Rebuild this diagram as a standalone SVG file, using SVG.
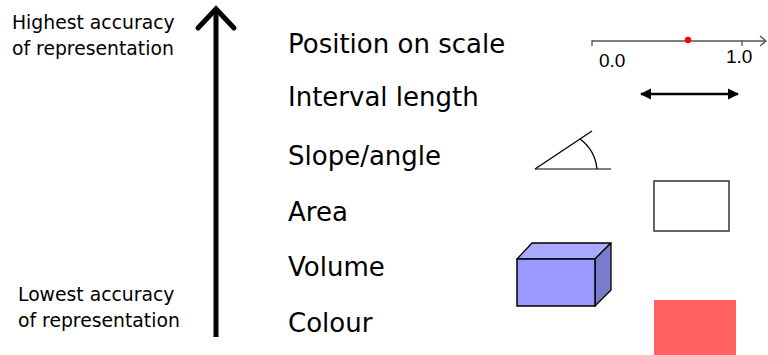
<svg xmlns="http://www.w3.org/2000/svg" width="768" height="355" viewBox="0 0 768 355">
<defs>
<style>
.lbl{font-family:"DejaVu Sans",Verdana,sans-serif;font-size:26px;fill:#000}
.side{font-family:"DejaVu Sans",Verdana,sans-serif;font-size:18.8px;fill:#000}
.num{font-family:"Liberation Sans",Arial,sans-serif;font-size:19px;fill:#000}
</style>
<marker id="ah" viewBox="0 0 10 10" refX="9" refY="5" markerWidth="4.6" markerHeight="4.6" orient="auto-start-reverse" markerUnits="strokeWidth">
<path d="M0,0 L10,5 L0,10 z" fill="#000"/>
</marker>
</defs>
<rect width="768" height="355" fill="#fff"/>

<g id="accuracy-axis">
<line x1="216" y1="12" x2="216" y2="337" stroke="#000" stroke-width="5"/>
<polyline points="198,28 216,9 234,28" fill="none" stroke="#000" stroke-width="5" stroke-linecap="round" stroke-linejoin="miter"/>
</g>

<g id="highest-label">
<text class="side" x="12" y="29">Highest accuracy</text>
<text class="side" x="12" y="55">of representation</text>
</g>
<g id="lowest-label">
<text class="side" x="18" y="301">Lowest accuracy</text>
<text class="side" x="18" y="327">of representation</text>
</g>

<g id="position">
<text class="lbl" x="288" y="53">Position on scale</text>
<line x1="592" y1="41" x2="766" y2="41" stroke="#555" stroke-width="1.3"/>
<polyline points="760,36 766,41 760,46" fill="none" stroke="#555" stroke-width="1.3"/>
<line x1="592" y1="40" x2="592" y2="46" stroke="#555" stroke-width="1.3"/>
<line x1="742" y1="40" x2="742" y2="46" stroke="#555" stroke-width="1.3"/>
<circle cx="688" cy="40" r="3.2" fill="#f00"/>
<text class="num" x="599" y="67">0.0</text>
<text class="num" x="726" y="63">1.0</text>
</g>

<g id="interval">
<text class="lbl" x="288" y="106">Interval length</text>
</g>

<g id="slope">
<text class="lbl" x="288" y="165">Slope/angle</text>
<line x1="535" y1="169" x2="611" y2="169" stroke="#555" stroke-width="1.5"/>
<line x1="535" y1="169" x2="592" y2="131" stroke="#000" stroke-width="1.3"/>
<path d="M580,139 Q595,150 597,169" fill="none" stroke="#000" stroke-width="1.3"/>
</g>

<g id="area">
<text class="lbl" x="288" y="221">Area</text>
<rect x="654" y="181" width="75" height="50" fill="#fff" stroke="#333" stroke-width="1.5"/>
</g>

<g id="volume">
<text class="lbl" x="288" y="276">Volume</text>
<polygon points="517,259 532,243 611,243 595,259" fill="#aaaaff" stroke="#000" stroke-width="1.3" stroke-linejoin="round"/>
<polygon points="595,259 611,243 611,290 595,306" fill="#7b7bcc" stroke="#000" stroke-width="1.3" stroke-linejoin="round"/>
<rect x="517" y="259" width="78" height="47" fill="#9999ff" stroke="#000" stroke-width="1.5"/>
</g>

<g id="colour">
<text class="lbl" x="288" y="332">Colour</text>
<rect x="654" y="300" width="82" height="55" fill="#ff6060"/>
</g>

<g id="connectors">
<line x1="641" y1="94" x2="738" y2="94" stroke="#000" stroke-width="2.5" marker-start="url(#ah)" marker-end="url(#ah)"/>
</g>
</svg>
